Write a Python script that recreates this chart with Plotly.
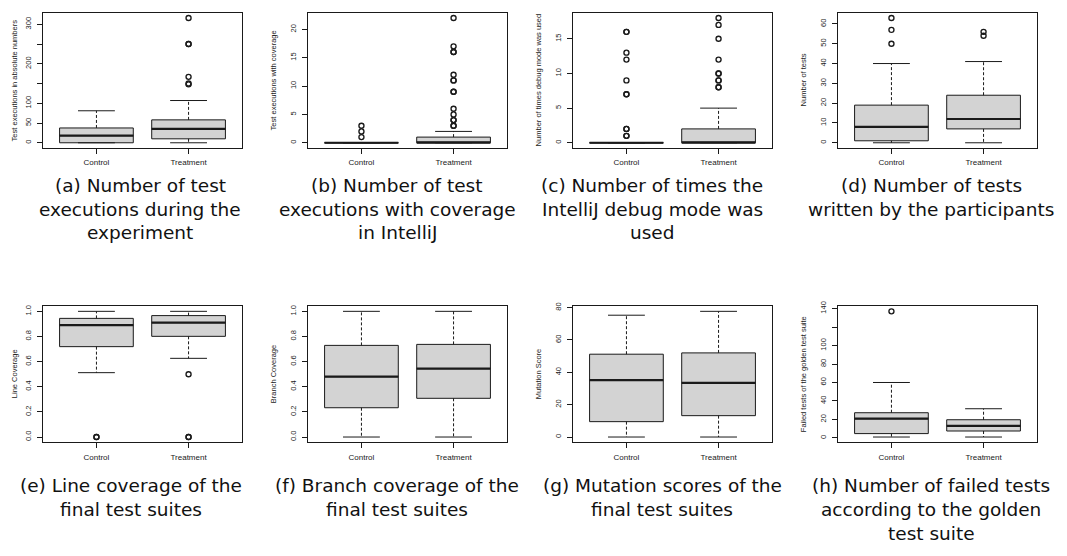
import plotly.graph_objects as go

categories = ["Control", "Treatment"]
positions = [1, 2]

# (a) test executions
a_lower = [0, 0]
a_q1 = [0, 10]
a_median = [18, 35]
a_q3 = [37.5, 58]
a_upper = [81, 107]
a_out_control = []
a_out_treatment = [148, 150, 167, 250, 250, 316]
a_ticks = [0, 50, 100, 150, 200, 250, 300]
a_ticklabels = ["0", "50", "100", "", "200", "", "300"]

# (b) test executions with coverage
b_lower = [0, 0]
b_q1 = [0, 0]
b_median = [0, 0]
b_q3 = [0, 1]
b_upper = [0, 2]
b_out_control = [1, 2, 3]
b_out_treatment = [3, 3, 4, 4, 5, 6, 9, 9, 11, 11, 12, 16, 16, 17, 22]
b_ticks = [0, 5, 10, 15, 20]
b_ticklabels = ["0", "5", "10", "15", "20"]

# (c) debug mode
c_lower = [0, 0]
c_q1 = [0, 0]
c_median = [0, 0]
c_q3 = [0, 2]
c_upper = [0, 5]
c_out_control = [1, 1, 2, 2, 7, 7, 9, 12, 13, 16, 16]
c_out_treatment = [8, 8, 9, 9, 10, 10, 12, 15, 17, 18]
c_ticks = [0, 5, 10, 15]
c_ticklabels = ["0", "5", "10", "15"]

# (d) number of tests
d_lower = [0, 0]
d_q1 = [1, 7]
d_median = [8, 12]
d_q3 = [19, 24]
d_upper = [40, 41]
d_out_control = [50, 57, 63]
d_out_treatment = [54, 56]
d_ticks = [0, 10, 20, 30, 40, 50, 60]
d_ticklabels = ["0", "10", "20", "30", "40", "50", "60"]

# (e) line coverage
e_lower = [0.512, 0.626]
e_q1 = [0.719, 0.801]
e_median = [0.891, 0.91]
e_q3 = [0.944, 0.966]
e_upper = [1.0, 1.0]
e_out_control = [0.0, 0.0]
e_out_treatment = [0.0, 0.0, 0.5]
e_ticks = [0, 0.2, 0.4, 0.6, 0.8, 1.0]
e_ticklabels = ["0.0", "0.2", "0.4", "0.6", "0.8", "1.0"]

# (f) branch coverage
f_lower = [0.0, 0.0]
f_q1 = [0.233, 0.308]
f_median = [0.48, 0.544]
f_q3 = [0.729, 0.737]
f_upper = [1.0, 1.0]
f_out_control = []
f_out_treatment = []
f_ticks = [0, 0.2, 0.4, 0.6, 0.8, 1.0]
f_ticklabels = ["0.0", "0.2", "0.4", "0.6", "0.8", "1.0"]

# (g) mutation score
g_lower = [0, 0]
g_q1 = [9.5, 13.2]
g_median = [35.2, 33.5]
g_q3 = [51.2, 52.0]
g_upper = [75.3, 77.7]
g_out_control = []
g_out_treatment = []
g_ticks = [0, 20, 40, 60, 80]
g_ticklabels = ["0", "20", "40", "60", "80"]

# (h) failed tests of golden suite
h_lower = [1, 1]
h_q1 = [4.7, 7.5]
h_median = [20.8, 13]
h_q3 = [27.3, 19.7]
h_upper = [60, 31.6]
h_out_control = [137]
h_out_treatment = []
h_ticks = [0, 20, 40, 60, 80, 100, 120, 140]
h_ticklabels = ["0", "20", "40", "60", "80", "100", "", "140"]

y_titles = [
    "Test executions in absolute numbers",
    "Test executions with coverage",
    "Number of times debug mode was used",
    "Number of tests",
    "Line Coverage",
    "Branch Coverage",
    "Mutation Score",
    "Failed tests of the golden test suite",
]

captions = [
    ["(a) Number of test", "executions during the", "experiment"],
    ["(b) Number of test", "executions with coverage", "in IntelliJ"],
    ["(c) Number of times the", "IntelliJ debug mode was", "used"],
    ["(d) Number of tests", "written by the participants"],
    ["(e) Line coverage of the", "final test suites"],
    ["(f) Branch coverage of the", "final test suites"],
    ["(g) Mutation scores of the", "final test suites"],
    ["(h) Number of failed tests", "according to the golden", "test suite"],
]

panels = [
    (a_lower, a_q1, a_median, a_q3, a_upper, a_out_control, a_out_treatment, a_ticks, a_ticklabels),
    (b_lower, b_q1, b_median, b_q3, b_upper, b_out_control, b_out_treatment, b_ticks, b_ticklabels),
    (c_lower, c_q1, c_median, c_q3, c_upper, c_out_control, c_out_treatment, c_ticks, c_ticklabels),
    (d_lower, d_q1, d_median, d_q3, d_upper, d_out_control, d_out_treatment, d_ticks, d_ticklabels),
    (e_lower, e_q1, e_median, e_q3, e_upper, e_out_control, e_out_treatment, e_ticks, e_ticklabels),
    (f_lower, f_q1, f_median, f_q3, f_upper, f_out_control, f_out_treatment, f_ticks, f_ticklabels),
    (g_lower, g_q1, g_median, g_q3, g_upper, g_out_control, g_out_treatment, g_ticks, g_ticklabels),
    (h_lower, h_q1, h_median, h_q3, h_upper, h_out_control, h_out_treatment, h_ticks, h_ticklabels),
]

# page has an 8px body margin; the figure fills the rest of the window
OFF = 8
W, H = 1067 - OFF, 556 - OFF


def px(x):
    return (x - OFF) / W


def py(y):
    return 1 - (y - OFF) / H


frame_lefts = [43, 308, 573, 838]
frame_width = 199
row_tops = [8, 304]
row_bottoms = [144, 441]
caption_x = [[140, 397, 652, 931], [131, 397, 662, 931]]
caption_mid = [[182, 206, 230], [485, 509, 533]]

small_font = "Liberation Sans, Arial, sans-serif"
caption_font = "DejaVu Sans, sans-serif"
ink = "#1a1a1a"

fig = go.Figure()
annotations = []
layout_axes = {}

for i, (lo, q1, med, q3, hi, oc, ot, ticks, ticklabels) in enumerate(panels):
    n = i + 1
    xa = "x" if n == 1 else f"x{n}"
    ya = "y" if n == 1 else f"y{n}"
    col = i % 4
    row = i // 4
    left = frame_lefts[col]
    top = row_tops[row]
    bottom = row_bottoms[row]

    fig.add_trace(go.Box(
        x=positions, q1=q1, median=med, q3=q3, lowerfence=q1, upperfence=q3,
        width=0.8, whiskerwidth=0, fillcolor="#d3d3d3",
        line=dict(color=ink, width=1), boxpoints=False,
        xaxis=xa, yaxis=ya, hoverinfo="skip", showlegend=False,
    ))
    for p, l, a, b, h in zip(positions, lo, q1, q3, hi):
        fig.add_trace(go.Scatter(
            x=[p, p, None, p, p], y=[b, h, None, a, l], mode="lines",
            line=dict(color=ink, width=1, dash="3px,2px"),
            xaxis=xa, yaxis=ya, hoverinfo="skip", showlegend=False,
        ))
        fig.add_trace(go.Scatter(
            x=[p - 0.2, p + 0.2, None, p - 0.2, p + 0.2], y=[h, h, None, l, l], mode="lines",
            line=dict(color=ink, width=1),
            xaxis=xa, yaxis=ya, hoverinfo="skip", showlegend=False,
        ))
    mx, my = [], []
    for p, m in zip(positions, med):
        mx += [p - 0.4, p + 0.4, None]
        my += [m, m, None]
    fig.add_trace(go.Scatter(
        x=mx, y=my, mode="lines", line=dict(color=ink, width=2.2),
        xaxis=xa, yaxis=ya, hoverinfo="skip", showlegend=False,
    ))
    ox = [positions[0]] * len(oc) + [positions[1]] * len(ot)
    oy = list(oc) + list(ot)
    if oy:
        fig.add_trace(go.Scatter(
            x=ox, y=oy, mode="markers",
            marker=dict(symbol="circle-open", size=5, color=ink, line=dict(width=1.4, color=ink)),
            xaxis=xa, yaxis=ya, hoverinfo="skip", showlegend=False,
        ))

    allv = list(lo) + list(hi) + oy
    vmin, vmax = min(allv), max(allv)
    span = vmax - vmin
    yr = [vmin - 0.04 * span, vmax + 0.04 * span]

    xkey = "xaxis" if n == 1 else f"xaxis{n}"
    ykey = "yaxis" if n == 1 else f"yaxis{n}"
    layout_axes[xkey] = dict(
        domain=[px(left), px(left + frame_width)], anchor=ya,
        range=[0.42, 2.58], tickvals=positions, ticktext=categories,
        ticks="outside", ticklen=5, tickcolor=ink, tickwidth=1,
        showline=True, mirror=True, linecolor=ink, linewidth=1,
        showgrid=False, zeroline=False, fixedrange=True,
        tickfont=dict(family=small_font, size=8, color=ink),
        ticklabelstandoff=2,
    )
    layout_axes[ykey] = dict(
        domain=[py(bottom), min(1.0, py(top))], anchor=xa,
        range=yr, tickvals=ticks, ticktext=ticklabels, tickangle=-90,
        ticks="outside", ticklen=5, tickcolor=ink, tickwidth=1,
        showline=True, mirror=True, linecolor=ink, linewidth=1,
        showgrid=False, zeroline=False, fixedrange=True,
        tickfont=dict(family=small_font, size=7.5, color=ink),
        ticklabelstandoff=3,
    )
    title_x = max(left - 35, OFF + 6)
    annotations.append(dict(
        text=y_titles[i], xref="paper", yref="paper",
        x=px(title_x), y=py((top + bottom) / 2),
        xanchor="center", yanchor="middle", textangle=-90, showarrow=False,
        font=dict(family=small_font, size=7.5, color=ink),
    ))
    for k, line in enumerate(captions[i]):
        annotations.append(dict(
            text=line, xref="paper", yref="paper",
            x=px(caption_x[row][col]), y=py(caption_mid[row][k]),
            xanchor="center", yanchor="middle", align="center", showarrow=False,
            borderpad=0,
            font=dict(family=caption_font, size=18.5, color="#111"),
        ))

fig.update_layout(
    width=W, height=H, margin=dict(l=0, r=0, t=0, b=0),
    paper_bgcolor="white", plot_bgcolor="white", showlegend=False,
    annotations=annotations, **layout_axes,
)

fig.write_html("out.html")
